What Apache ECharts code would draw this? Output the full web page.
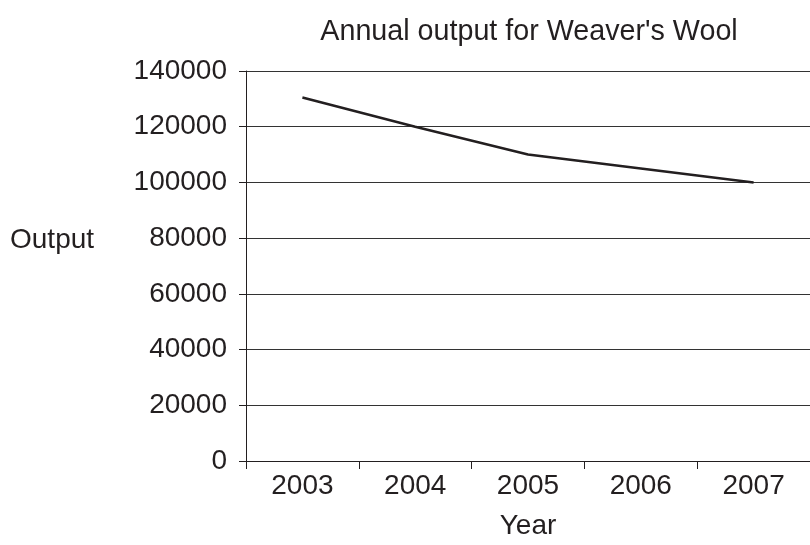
<!DOCTYPE html>
<html><head><meta charset="utf-8">
<script src="https://cdn.jsdelivr.net/npm/echarts@6/dist/echarts.min.js"></script>
<style>html,body{margin:0;padding:0;background:#fff}#c{width:810px;height:545px}</style>
</head><body><div id="c"></div>
<script>
const years = ['2003', '2004', '2005', '2006', '2007'];
const outputValues = [130500, 120000, 110000, 105000, 100000];
const yTicks = [0, 20000, 40000, 60000, 80000, 100000, 120000, 140000];

const FONT = 'Liberation Sans, Arial, sans-serif';
const INK = '#231f20';
const chart = echarts.init(document.getElementById('c'), null, {renderer: 'canvas'});
chart.setOption({
  backgroundColor: '#fff',
  animation: false,
  title: {
    text: "Annual output for Weaver's Wool",
    left: 524, top: 13, textAlign: 'center',
    textStyle: {fontFamily: FONT, fontSize: 28.7, fontWeight: 'normal', color: INK}
  },
  graphic: [{
    type: 'text', left: 10, top: 226,
    style: {text: 'Output', font: '28px ' + FONT, fill: INK}
  }],
  grid: {left: 246, top: 71, width: 568, height: 397, containLabel: false},
  xAxis: {
    type: 'category', data: years, boundaryGap: true,
    name: 'Year', nameLocation: 'middle', nameGap: 51,
    nameTextStyle: {fontFamily: FONT, fontSize: 28, color: INK},
    axisLine: {show: true, lineStyle: {color: INK, width: 1}},
    axisTick: {show: true, inside: false, length: 8, alignWithLabel: false, lineStyle: {color: INK}},
    axisLabel: {fontFamily: FONT, fontSize: 28, color: INK, margin: 11},
    splitLine: {show: false}
  },
  yAxis: {
    type: 'value', min: yTicks[0], max: yTicks[yTicks.length - 1], interval: 20000,
    axisLine: {show: true, lineStyle: {color: INK, width: 1}},
    axisTick: {show: true, inside: false, length: 7, lineStyle: {color: INK}},
    axisLabel: {fontFamily: FONT, fontSize: 28, color: INK, margin: 19,
      formatter: function (v) { return String(v); }},
    splitLine: {show: true, lineStyle: {color: '#333', width: 1}}
  },
  series: [{
    type: 'line', data: outputValues, showSymbol: false, symbol: 'none',
    lineStyle: {color: INK, width: 2.5}
  }]
});
</script></body></html>
